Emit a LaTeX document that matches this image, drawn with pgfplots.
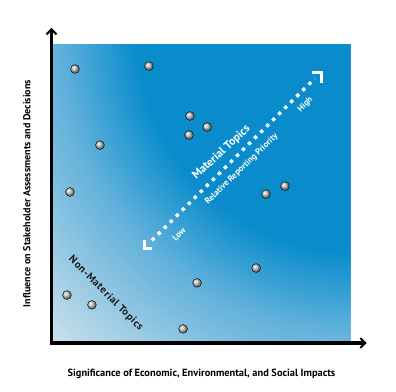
\documentclass[border=0pt]{standalone}
\usepackage{pgfplots}
\pgfplotsset{compat=1.18}
\usepackage{fontspec}
\setmainfont{PT Sans}
\usetikzlibrary{arrows.meta}
\definecolor{bgA}{HTML}{0A8CCC}
\definecolor{bgB}{HTML}{5EB0DA}
\definecolor{bgC}{HTML}{D3E4EC}
\definecolor{ballc}{HTML}{C4C4C4}
\definecolor{darktxt}{HTML}{1A1A1A}
\begin{document}
\begin{tikzpicture}
\begin{scope}
\clip (0bp,0bp) rectangle (297bp,297bp);
\fill[bgC] (0bp,0bp) rectangle (297bp,297bp);
\foreach \r in {450,446,...,302} {
  \pgfmathsetmacro{\p}{100*(\r-300)/150}
  \fill[bgC!\p!bgB] (307bp,312bp) circle [radius=\r bp];
}
\foreach \r in {300,297,...,225} {
  \pgfmathsetmacro{\p}{100*(\r-225)/75}
  \fill[bgB!\p!bgA] (307bp,312bp) circle [radius=\r bp];
}
\end{scope}
\begin{axis}[
  at={(0,0)}, anchor=south west,
  scale only axis, width=297bp, height=297bp,
  xmin=0, xmax=10, ymin=0, ymax=10,
  axis line style={draw=none}, xtick=\empty, ytick=\empty, clip=false,
  xlabel={Significance of Economic, Environmental, and Social Impacts},
  ylabel={Influence on Stakeholder Assessments and Decisions},
  xlabel style={at={(axis description cs:0.5,-0.108)}, anchor=center, font=\fontsize{10.4bp}{11bp}\selectfont\bfseries},
  ylabel style={at={(axis description cs:-0.088,0.5)}, anchor=center, font=\fontsize{10.1bp}{11bp}\selectfont\bfseries},
]
% dotted priority line
\addplot[white, line width=3.4bp, dash pattern=on 3.4bp off 5.1bp, forget plot]
  coordinates {(3.33,3.42) (8.81,8.87)};
% end brackets
\addplot[white, line width=3.2bp, forget plot] coordinates {(3.08,3.43) (3.08,3.15) (3.33,3.15)};
\addplot[white, line width=3.2bp, forget plot] coordinates {(8.72,9.07) (9.04,9.07) (9.04,8.72)};
% topics
\addplot[only marks, mark=ball, mark size=4.4bp, mark options={ball color=ballc}] coordinates {
(0.74,9.19) (3.23,9.29) (4.61,7.61) (5.19,7.24) (4.58,6.97) (1.58,6.63) (0.57,5.05)
(7.17,4.98) (7.81,5.25) (6.84,2.49) (4.85,1.99) (0.47,1.58) (1.31,1.25) (4.38,0.44)
};
\node[white, rotate=43, font=\fontsize{11.5bp}{12bp}\selectfont\bfseries] at (axis cs:5.67,6.38) {Material Topics};
\node[white, rotate=44, font=\fontsize{8.6bp}{9bp}\selectfont\bfseries] at (axis cs:6.35,5.82) {Relative Reporting Priority};
\node[white, rotate=45, font=\fontsize{8.6bp}{9bp}\selectfont\bfseries] at (axis cs:8.50,7.98) {High};
\node[white, rotate=45, font=\fontsize{8.6bp}{9bp}\selectfont\bfseries] at (axis cs:4.24,3.64) {Low};
\node[darktxt, rotate=-45, font=\fontsize{10.5bp}{11bp}\selectfont\bfseries\addfontfeatures{LetterSpace=6}] at (axis cs:1.78,1.63) {Non-Material Topics};
\end{axis}
\draw[line width=3.5bp, -{Straight Barb[length=5bp,width=10bp,line width=2bp]}] (-1.5bp,-2.75bp) -- (-1.5bp,314bp);
\draw[line width=3.5bp, -{Straight Barb[length=5bp,width=10bp,line width=2bp]}] (-3.25bp,-1bp) -- (313.7bp,-1bp);
\path (-53bp,-50bp) rectangle (343bp,342bp);
\end{tikzpicture}
\end{document}
